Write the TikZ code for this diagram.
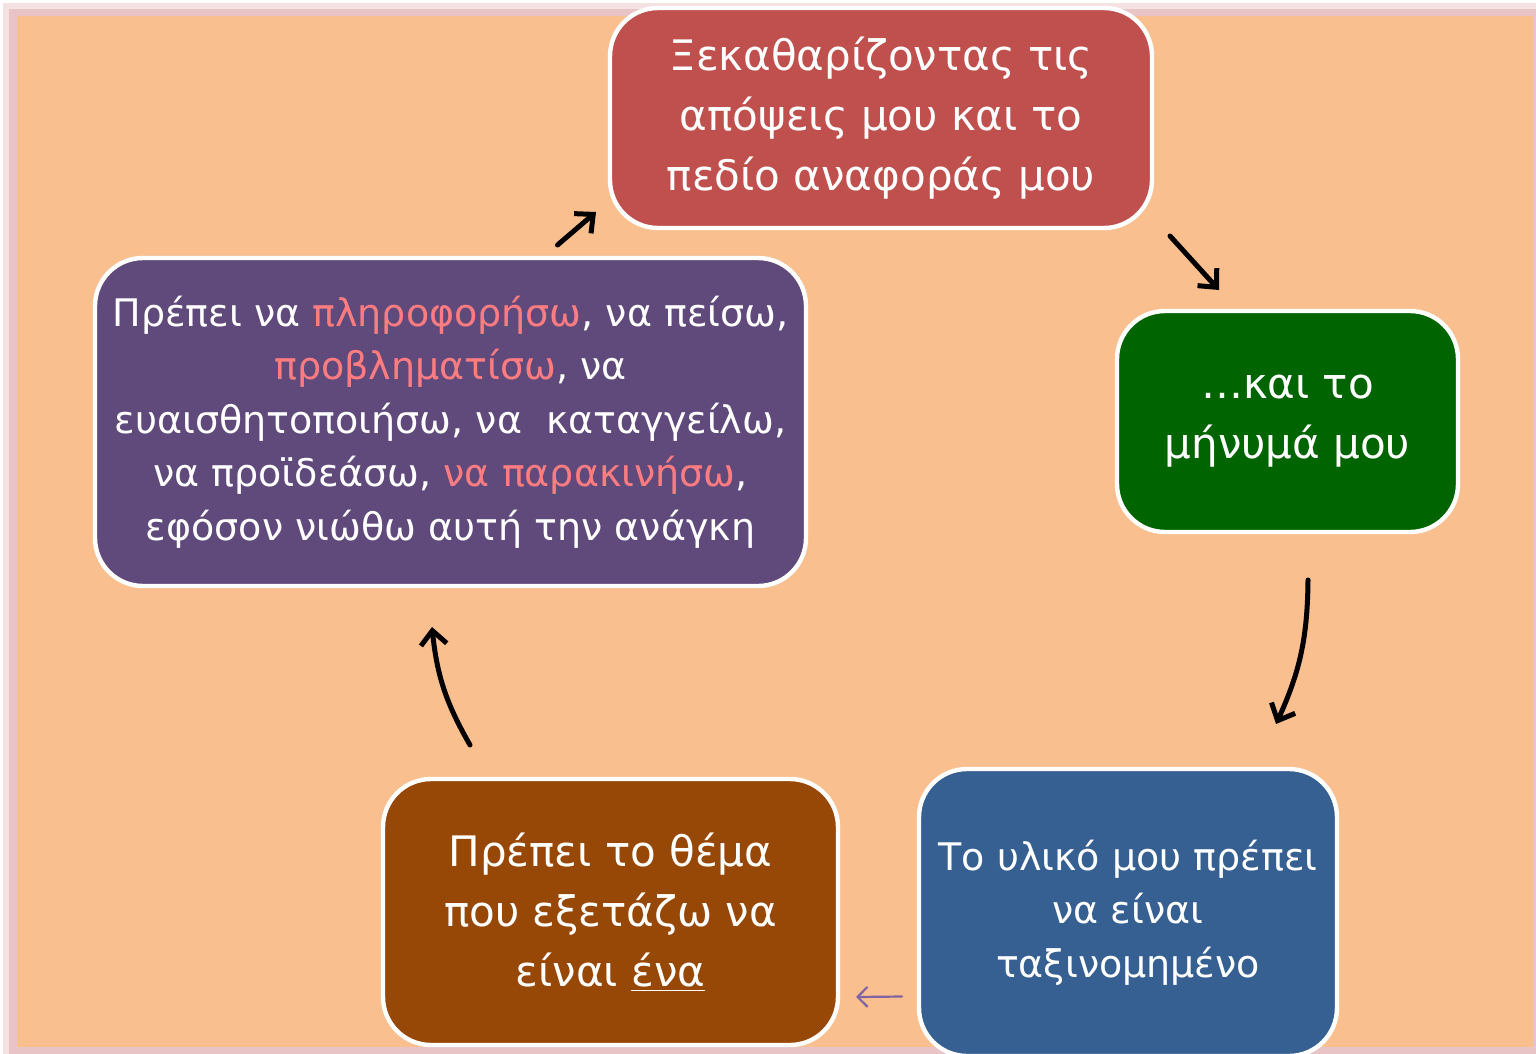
\documentclass[tikz,border=0pt]{standalone}
\usepackage{fontspec}
\setmainfont{DejaVu Sans}
\usepackage{tikz}
\usetikzlibrary{arrows.meta}
\definecolor{peach}{HTML}{F9BF8F}
\definecolor{blush}{HTML}{E8C4C6}
\definecolor{blushlight}{HTML}{F4E2E3}
\definecolor{brick}{HTML}{C0504D}
\definecolor{leaf}{HTML}{006400}
\definecolor{steel}{HTML}{376092}
\definecolor{rust}{HTML}{974706}
\definecolor{plum}{HTML}{604A7B}
\definecolor{salmon}{HTML}{FF7C80}
\definecolor{lilac}{HTML}{8064A2}
\tikzstyle{stage} = [rectangle, rounded corners=24pt, draw=white, line width=2.2pt, text=white, align=center, inner sep=0pt, outer sep=0pt]
\tikzstyle{big} = [font=\fontsize{21}{30}\selectfont]
\tikzstyle{small} = [font=\fontsize{19}{26.75}\selectfont]
\tikzstyle{connector} = [draw, line width=2.5pt, line cap=round, -{Straight Barb[length=7pt,width=13pt]}]
\tikzstyle{thin} = [draw=lilac, line width=1.1pt, line cap=round, -{Straight Barb[length=5pt,width=10pt]}]

\begin{document}
\begin{tikzpicture}[x=0.5pt, y=-0.5pt]
    \clip (0,0) rectangle (1536,1054);
    % frame and background
    \fill[white] (0,0) rectangle (1536,1054);
    \fill[blushlight] (3,3) rectangle (1536,1054);
    \fill[blush] (9,9) rectangle (1536,1054);
    \fill[peach] (17,16) rectangle (1533,1047);

    \node[stage, big, fill=brick, minimum width=271pt, minimum height=110pt] (clarify) at (881,118)
        {Ξεκαθαρίζοντας τις\\απόψεις μου και το\\πεδίο αναφοράς μου};
    \node[stage, big, fill=leaf, minimum width=170.5pt, minimum height=110.5pt] (message) at (1287.5,421.5)
        {…και το\\μήνυμά μου};
    \node[stage, small, fill=steel, minimum width=209pt, minimum height=143.5pt] (material) at (1128,912.5)
        {Το υλικό μου πρέπει\\να είναι\\ταξινομημένο};
    \node[stage, big, fill=rust, minimum width=227.5pt, minimum height=133pt] (topic) at (610.5,912)
        {Πρέπει το θέμα\\που εξετάζω να\\είναι \underline{ένα}};
    \node[stage, small, fill=plum, minimum width=355.5pt, minimum height=164pt] (purpose) at (450.5,422)
        {Πρέπει να \textcolor{salmon}{πληροφορήσω}, να πείσω,\\
         \textcolor{salmon}{προβληματίσω}, να\\
         ευαισθητοποιήσω, να\ \ καταγγείλω,\\
         να προϊδεάσω, \textcolor{salmon}{να παρακινήσω},\\
         εφόσον νιώθω αυτή την ανάγκη};

    \draw[connector] ([shift={(107,-13)}]purpose.north) -- ([shift={(-14,-16)}]clarify.south west);
    \draw[connector] ([shift={(18,8)}]clarify.south east) -- ([shift={(-68.5,-21)}]message.north);
    \draw[connector] ([shift={(20.5,48)}]message.south) to[bend left=12] ([shift={(148,-45)}]material.north);
    \draw[thin] ([shift={(-17,84)}]material.west) -- ([shift={(18,85)}]topic.east);
    \draw[connector] ([shift={(-140.5,-34)}]topic.north) to[bend left=12] ([shift={(-18.5,41)}]purpose.south);
\end{tikzpicture}
\end{document}
